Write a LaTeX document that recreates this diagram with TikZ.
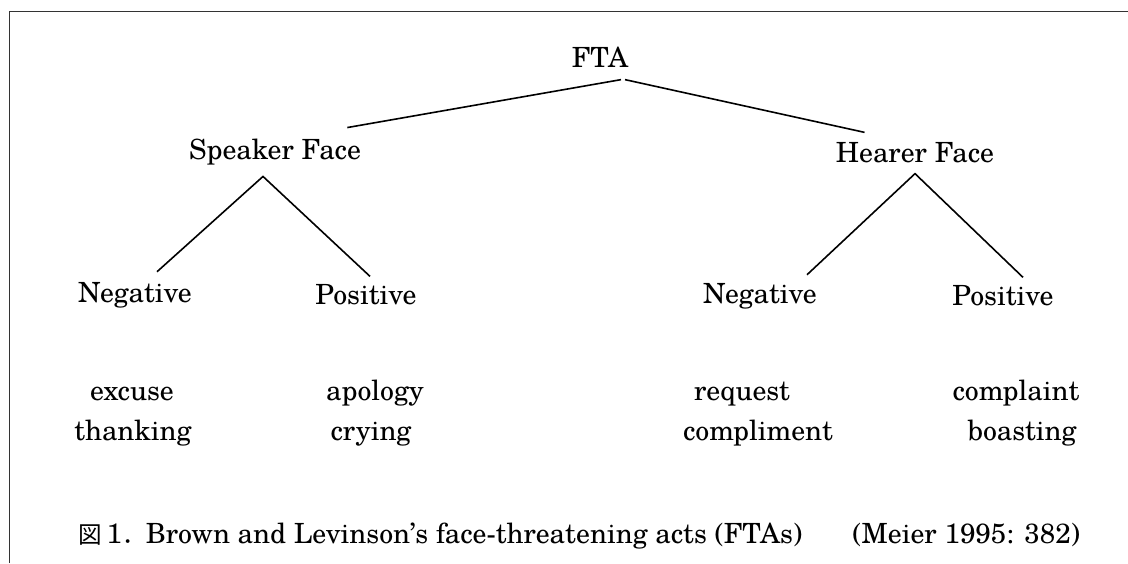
\documentclass[tikz,border=0pt]{standalone}
\usepackage{fontspec}
\setmainfont{TeX Gyre Schola}
\newfontfamily\cjk[Scale=0.85]{Noto Sans CJK JP}
\usepackage{xcolor}

\begin{document}
\begin{tikzpicture}[x=0.5pt,y=-0.5pt,
        lbl/.style={font=\fontsize{13.9}{16}\selectfont, inner sep=2pt},
        act/.style={lbl, anchor=base},
        branch/.style={line width=0.8pt}]
                \useasboundingbox (0,0) rectangle (1128,563);
                \draw[line width=0.5pt, black!80] (9,563) -- (9,11) -- (1128,11);

                \node[lbl] (fta)     at (600,57)  {FTA};

                \node[lbl] (speaker) at (275,152) {Speaker Face};
                \node[lbl] (spkneg)  at (135,295) {Negative};
                \node[lbl] (spkpos)  at (366,295) {Positive};

                \node[lbl] (hearer)  at (915,153) {Hearer Face};
                \node[lbl] (hrneg)   at (760,296) {Negative};
                \node[lbl] (hrpos)   at (1003,296) {Positive};

                \node[act] (excuse)     at (132,400)  {excuse};
                \node[act] (thanking)   at (133,440)  {thanking};
                \node[act] (apology)    at (375,400)  {apology};
                \node[act] (crying)     at (371,440)  {crying};
                \node[act] (request)    at (742,400)  {request};
                \node[act] (compliment) at (758,440)  {compliment};
                \node[act] (complaint)  at (1016,400) {complaint};
                \node[act] (boasting)   at (1022,440) {boasting};

                \node[act, anchor=base west] (caption) at (74,543)
                    {{\cjk 図}\,1{\cjk ．}Brown and Levinson's face-threatening acts (FTAs)};
                \node[act, anchor=base west] (source) at (848,543) {(Meier 1995: 382)};

                \draw[branch] ([xshift=-9pt,yshift=3.5pt]speaker.north east) -- ([xshift=10.5pt,yshift=-4pt]fta.south);
                \draw[branch] ([xshift=12.5pt,yshift=-4pt]fta.south) -- ([xshift=16.5pt,yshift=3pt]hearer.north west);

                \draw[branch] ([xshift=11pt,yshift=3pt]spkneg.north) -- ([xshift=-6pt,yshift=-3.5pt]speaker.south) -- ([xshift=2pt,yshift=2pt]spkpos.north);
                \draw[branch] ([xshift=23.5pt,yshift=2pt]hrneg.north) -- ([yshift=-3pt]hearer.south) -- ([xshift=10pt,yshift=2pt]hrpos.north);
\end{tikzpicture}
\end{document}
